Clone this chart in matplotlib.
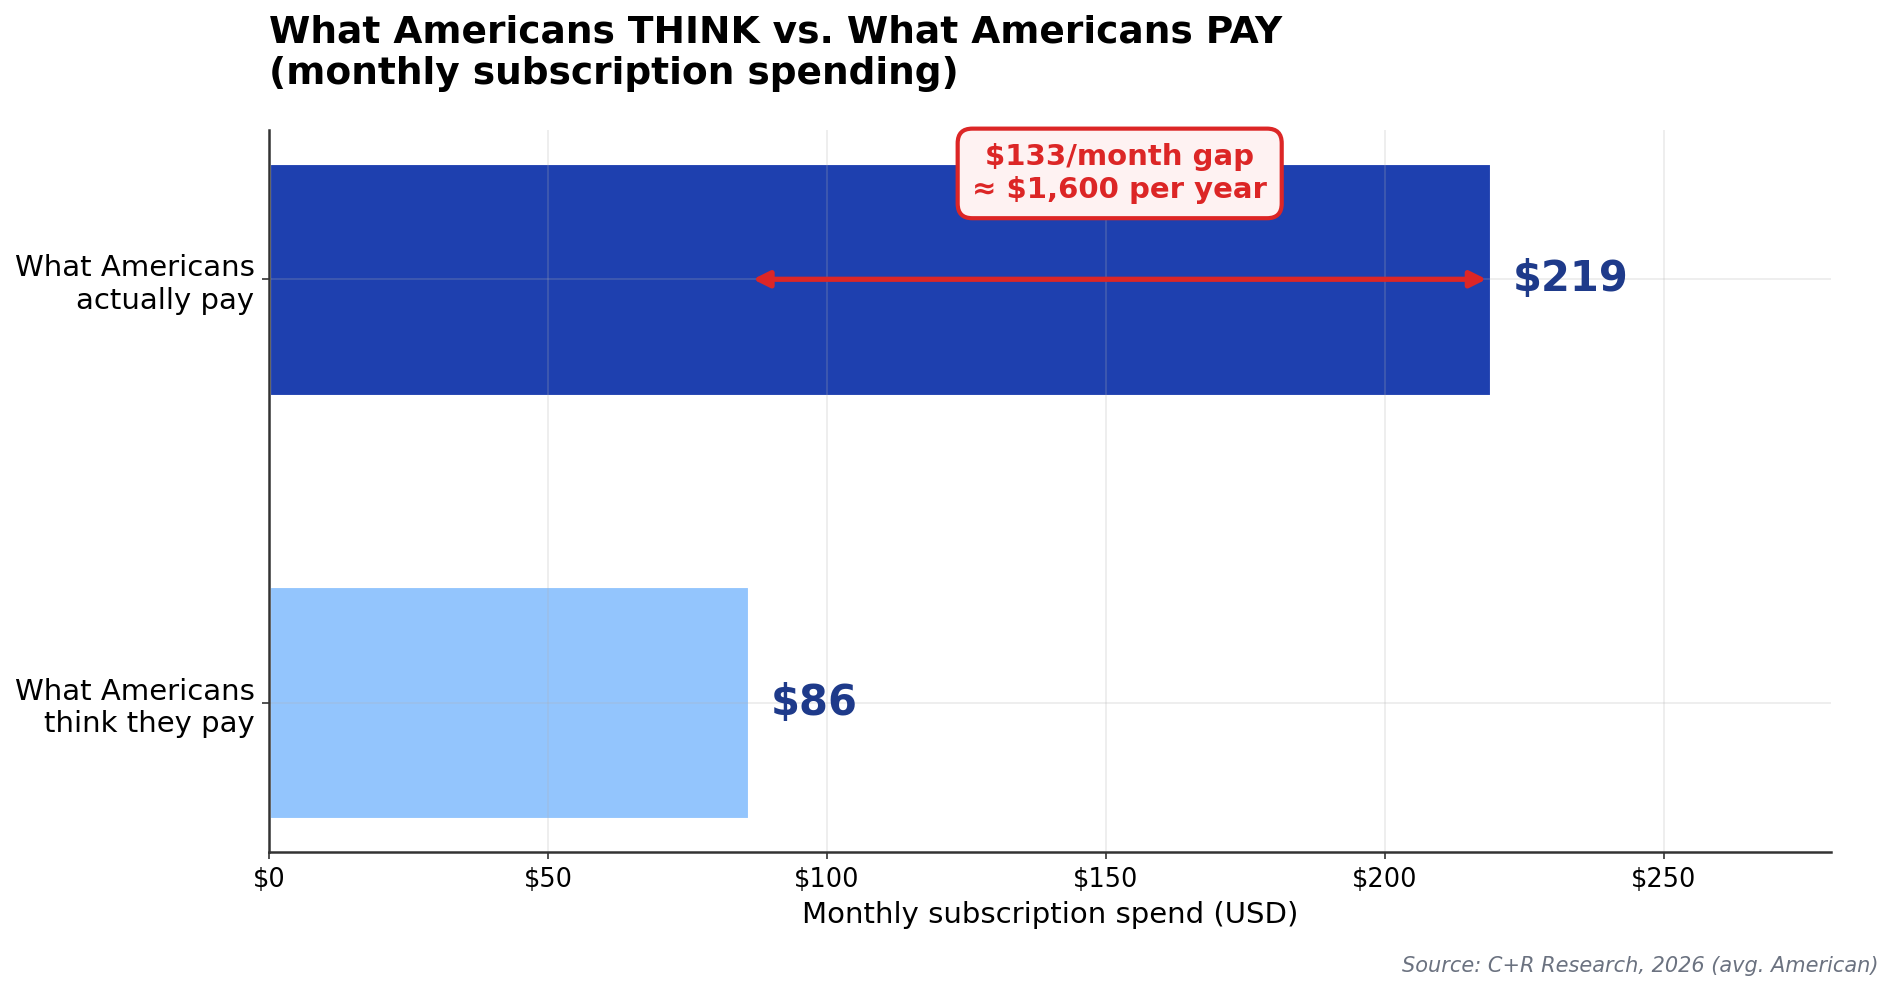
import matplotlib
matplotlib.use("Agg")
import matplotlib.pyplot as plt

# data
labels = ["What Americans\nthink they pay", "What Americans\nactually pay"]
values = [86, 219]
bar_colors = ["#93c5fd", "#1e40af"]
xticks = [0, 50, 100, 150, 200, 250]
gap_text = "$133/month gap\n≈ $1,600 per year"
source = "Source: C+R Research, 2026 (avg. American)"

fig = plt.figure(figsize=(1892 / 150, 991 / 150), dpi=150)
ax = fig.add_axes([0.1422, 0.1403, 0.8255, 0.7285])

ypos = list(range(len(labels)))
ax.barh(ypos, values, height=0.55, color=bar_colors, edgecolor="white", linewidth=1.5)

ax.set_yticks(ypos)
ax.set_yticklabels(labels, fontsize=14)
ax.set_xticks(xticks)
ax.set_xticklabels(["$" + str(t) for t in xticks], fontsize=12.3)
ax.set_xlim(0, 280)
ax.set_xlabel("Monthly subscription spend (USD)", fontsize=14)

ax.grid(True, alpha=0.25)
for s in ["top", "right"]:
    ax.spines[s].set_visible(False)
for s in ["left", "bottom"]:
    ax.spines[s].set_color("#333333")
    ax.spines[s].set_linewidth(1.2)
ax.tick_params(colors="#333333", labelcolor="black")

# value labels
for y, v in zip(ypos, values):
    ax.text(v + 4, y, "$" + str(v), va="center", ha="left",
            fontsize=20, fontweight="bold", color="#1e3a8a")

# gap arrow + callout
ax.annotate("", xy=(values[1], 1), xytext=(values[0], 1),
            arrowprops=dict(arrowstyle="<|-|>", color="#dc2626", lw=2.5,
                            mutation_scale=16))
ax.text((values[0] + values[1]) / 2, 1.25, gap_text, ha="center", va="center",
        fontsize=14, fontweight="bold", color="#dc2626",
        bbox=dict(boxstyle="round,pad=0.5", facecolor="#fef2f2",
                  edgecolor="#dc2626", linewidth=2))

ax.set_title("What Americans THINK vs. What Americans PAY\n(monthly subscription spending)",
             loc="left", fontsize=18, fontweight="bold", pad=22)

fig.text(0.993, 0.015, source, ha="right", va="bottom", fontsize=10,
         style="italic", color="#6b7280")

fig.savefig("out.png", dpi=150)
